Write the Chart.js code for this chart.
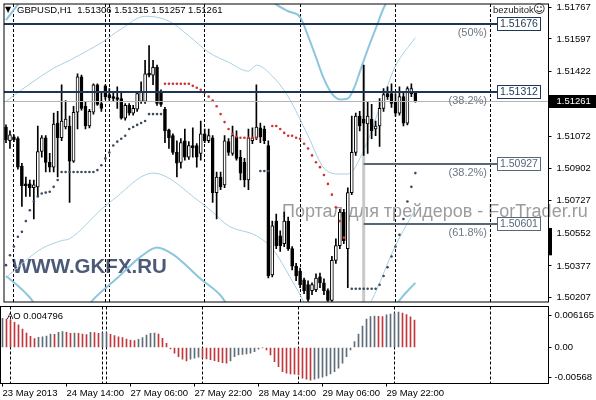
<!DOCTYPE html>
<html><head><meta charset="utf-8">
<script src="https://cdn.jsdelivr.net/npm/chart.js@4.4.1/dist/chart.umd.min.js"></script>
<style>
html,body{margin:0;padding:0;background:#fff;}
#wrap{position:relative;width:596px;height:400px;overflow:hidden;background:#fff;}
#c1{position:absolute;left:0;top:0;}
#c2{position:absolute;left:0;top:306px;}
</style></head><body>
<div id="wrap"><canvas id="c1" width="596" height="306"></canvas><canvas id="c2" width="596" height="94"></canvas></div>
<script>
// ---------- DATA ----------
const symbol = 'GBPUSD,H1';
const slotCount = 137; // bars shown incl. empty right margin
const xTickIndex = [0,16,32,48,64,80,96];
const xTickLabels = ['23 May 2013','24 May 14:00','27 May 06:00','27 May 22:00','28 May 14:00','29 May 06:00','29 May 22:00'];
const sepIndex = [2,25,26,50,74,98,122];
const priceTicks = [1.51767,1.51597,1.51422,1.51072,1.50902,1.50727,1.50552,1.50377,1.50207];
const priceMin = 1.50183, priceMax = 1.51785;

const open = [
1.51124,1.51050,1.51071,1.51061,1.50913,1.50818,1.50818,1.50797,1.50802,1.50992,
1.51066,1.50934,1.50908,1.51145,1.51066,1.51124,1.51129,1.50940,1.51203,1.51393,
1.51235,1.51129,1.51203,1.51351,1.51250,1.51345,1.51298,1.51287,1.51282,1.51277,
1.51171,1.51240,1.51198,1.51219,1.51261,1.51261,1.51414,1.51403,1.51445,1.51308,
1.51219,1.51108,1.51077,1.50987,1.50934,1.51050,1.50961,1.51024,1.51024,1.50982,
1.51087,1.51050,1.51066,1.50771,1.50855,1.50813,1.51045,1.50982,1.51071,1.50961,
1.50934,1.50839,1.51050,1.51066,1.51119,1.51113,1.51024,1.50328,1.50618,1.50539,
1.50497,1.50618,1.50470,1.50376,1.50349,1.50302,1.50276,1.50244,1.50249,1.50318,
1.50286,1.50244,1.50191,1.50407,1.50486,1.50666,1.50470,1.50771,1.50987,1.51182,
1.51166,1.51140,1.51166,1.51113,1.51129,1.51224,1.51303,1.51303,1.51261,1.51198,
1.51287,1.51145,1.51303,1.51306];
const close = [
1.51055,1.51082,1.51055,1.50908,1.50808,1.50808,1.50797,1.50813,1.50992,1.51066,
1.50934,1.50908,1.51140,1.51066,1.51156,1.51166,1.50940,1.51203,1.51393,1.51224,
1.51129,1.51208,1.51351,1.51245,1.51224,1.51287,1.51282,1.51277,1.51272,1.51171,
1.51240,1.51198,1.51224,1.51303,1.51314,1.51409,1.51403,1.51445,1.51250,1.51245,
1.51103,1.51066,1.50987,1.50929,1.51040,1.50961,1.51024,1.51013,1.50961,1.51087,
1.51050,1.51077,1.50771,1.50855,1.50802,1.51050,1.50987,1.51077,1.50955,1.50876,
1.50839,1.51066,1.51066,1.51124,1.51071,1.51050,1.50323,1.50592,1.50486,1.50486,
1.50618,1.50470,1.50376,1.50323,1.50276,1.50244,1.50197,1.50276,1.50312,1.50286,
1.50244,1.50191,1.50407,1.50486,1.50666,1.50513,1.50771,1.50987,1.51182,1.51129,
1.51145,1.51182,1.51103,1.51129,1.51224,1.51298,1.51287,1.51250,1.51198,1.51287,
1.51145,1.51330,1.51330,1.51261];
const high = [
1.51135,1.51103,1.51082,1.51071,1.50929,1.50855,1.50839,1.50839,1.51129,1.51077,
1.51077,1.50982,1.51198,1.51208,1.51351,1.51266,1.51182,1.51235,1.51409,1.51403,
1.51261,1.51219,1.51356,1.51356,1.51314,1.51351,1.51330,1.51314,1.51340,1.51314,
1.51250,1.51250,1.51240,1.51314,1.51366,1.51482,1.51561,1.51482,1.51456,1.51324,
1.51229,1.51113,1.51087,1.51050,1.51061,1.51113,1.51045,1.51119,1.51034,1.51156,
1.51113,1.51113,1.51077,1.50882,1.50882,1.51077,1.51061,1.51129,1.51103,1.50998,
1.50955,1.51113,1.51119,1.51351,1.51145,1.51129,1.51050,1.50618,1.50655,1.50565,
1.50666,1.50639,1.50481,1.50391,1.50365,1.50312,1.50297,1.50286,1.50334,1.50339,
1.50307,1.50254,1.50428,1.50523,1.50681,1.50681,1.50797,1.51182,1.51198,1.51208,
1.51456,1.51261,1.51245,1.51156,1.51277,1.51330,1.51340,1.51356,1.51303,1.51340,
1.51314,1.51340,1.51356,1.51315];
const low = [
1.51040,1.51008,1.51045,1.50897,1.50697,1.50750,1.50750,1.50629,1.50750,1.50961,
1.50882,1.50882,1.50882,1.50855,1.51050,1.51113,1.50718,1.50934,1.51113,1.51214,
1.51113,1.51119,1.51193,1.51240,1.51208,1.51272,1.51266,1.51261,1.51224,1.51166,
1.51161,1.51187,1.51187,1.51208,1.51250,1.51250,1.51393,1.51351,1.51240,1.51235,
1.51040,1.51008,1.50976,1.50855,1.50903,1.50945,1.50950,1.50961,1.50908,1.50945,
1.51040,1.51040,1.50718,1.50629,1.50787,1.50797,1.50971,1.50971,1.50945,1.50839,
1.50802,1.50787,1.51034,1.51055,1.51040,1.51034,1.50312,1.50318,1.50470,1.50455,
1.50481,1.50460,1.50355,1.50297,1.50260,1.50228,1.50186,1.50223,1.50239,1.50260,
1.50223,1.50186,1.50186,1.50391,1.50470,1.50497,1.50260,1.50760,1.50971,1.51103,
1.50971,1.50982,1.51061,1.51077,1.51019,1.51208,1.51272,1.51229,1.51182,1.51187,
1.51129,1.51135,1.51287,1.51257];

const sarBelow = [
1.50381,1.50434,1.50481,1.50534,1.50560,1.50618,1.50676,1.50723,1.50750,1.50766,
1.50771,1.50776,1.50802,1.50839,1.50882,1.50882,1.50882,1.50882,1.50882,1.50882,
1.50882,1.50882,1.50882,1.50892,1.50918,1.50955,1.50987,1.51024,1.51045,1.51061,
1.51077,1.51113,1.51124,1.51135,1.51145,1.51156,1.51193,1.51193,1.51193,1.51193,
null,null,null,null,null,null,null,null,null,null,
null,null,null,null,null,null,null,null,null,null,
null,null,null,null,1.50887,1.50887,1.50887,null,null,null,
null,null,null,null,null,null,null,null,null,null,
null,null,null,null,null,null,null,1.50254,1.50254,1.50254,
1.50254,1.50254,1.50254,1.50254,1.50276,1.50323,1.50370,1.50428,1.50481,1.50544,
1.50629,1.50723,1.50802,1.50876];
const sarAbove = [
null,null,null,null,null,null,null,null,null,null,
null,null,null,null,null,null,null,null,null,null,
null,null,null,null,null,null,null,null,null,null,
null,null,null,null,null,null,null,null,null,null,
1.51356,1.51356,1.51356,1.51356,1.51356,1.51356,1.51356,1.51345,1.51335,1.51324,
1.51308,1.51287,1.51266,1.51235,1.51193,1.51150,1.51113,1.51087,1.51071,1.51066,
1.51066,1.51066,1.51066,1.51066,null,null,null,1.51129,1.51129,1.51113,
1.51092,1.51077,1.51077,1.51066,1.51061,1.51034,1.51008,1.50971,1.50934,1.50908,
1.50866,1.50818,1.50760,1.50692,1.50618,1.50529,null,null,null,null,
null,null,null,null,null,null,null,null,null,null,
null,null,null,null];

// envelope / band lines: [bar index, price]
const bandOuterUpper = [[0,1.51698],[3,1.51783],[6,1.51867],[60,1.51920],[66,1.51820],[68,1.51783],[71,1.51746],[74,1.51714],[76,1.51614],[78,1.51498],[80,1.51382],[82,1.51303],[84,1.51272],[86,1.51277],[88,1.51356],[89,1.51419],[91,1.51540],[93,1.51651],[95,1.51762],[97,1.51841],[100,1.51946],[103,1.52078]];
const bandInnerUpper = [[0,1.51261],[5,1.51340],[12,1.51440],[16,1.51482],[21,1.51540],[24,1.51577],[29,1.51651],[35,1.51719],[41,1.51693],[46,1.51614],[51,1.51525],[56,1.51472],[61,1.51424],[63,1.51456],[67,1.51398],[71,1.51287],[76,1.51077],[80,1.50903],[84,1.50871],[86,1.50871],[90,1.50998],[95,1.51287],[98,1.51451],[103,1.51604]];
const bandInnerLower = [[0,1.50312],[5,1.50407],[9,1.50470],[14,1.50513],[16,1.50523],[24,1.50681],[27,1.50734],[37,1.50876],[49,1.50718],[52,1.50666],[56,1.50592],[63,1.50539],[67,1.50470],[72,1.50297],[75,1.50181],[78,1.50049],[88,1.50049],[92,1.50191],[98,1.50486],[103,1.50681]];
const bandOuterLower = [[0,1.50323],[3,1.50270],[6,1.50207],[10,1.50102],[20,1.50144],[22,1.50197],[28,1.50312],[34,1.50428],[38,1.50476],[42,1.50439],[49,1.50307],[54,1.50218],[58,1.50102],[90,1.49996],[98,1.50165],[100,1.50218],[103,1.50286]];

const ao = [
0.00508,0.00495,0.00480,0.00440,0.00395,0.00320,0.00250,0.00195,0.00155,0.00177,
0.00188,0.00200,0.00235,0.00229,0.00264,0.00276,0.00264,0.00247,0.00252,0.00245,
0.00235,0.00223,0.00264,0.00258,0.00247,0.00252,0.00258,0.00229,0.00206,0.00188,
0.00171,0.00148,0.00131,0.00119,0.00142,0.00171,0.00217,0.00247,0.00252,0.00235,
0.00160,0.00073,-0.00025,-0.00100,-0.00158,-0.00204,-0.00233,-0.00204,-0.00187,-0.00169,
-0.00180,-0.00200,-0.00210,-0.00228,-0.00245,-0.00263,-0.00274,-0.00233,-0.00158,-0.00129,
-0.00120,-0.00110,-0.00100,-0.00071,-0.00030,-0.00005,-0.00042,-0.00129,-0.00245,-0.00332,
-0.00419,-0.00448,-0.00459,-0.00465,-0.00477,-0.00534,-0.00552,-0.00568,-0.00552,-0.00534,
-0.00517,-0.00494,-0.00459,-0.00419,-0.00361,-0.00274,-0.00158,-0.00042,0.00102,0.00235,
0.00374,0.00496,0.00537,0.00549,0.00545,0.00540,0.00567,0.00584,0.00600,0.006165,
0.00600,0.00575,0.00535,0.004796];
const aoMin = -0.006271, aoMax = 0.007142;
const aoTickPos = [0.00554, 0, -0.00519];
const aoTickLabels = ['0.006165','0.00','-0.00568'];

// drawn objects
const levelPrice = [1.51676, 1.51312, 1.50927, 1.50601];
const levelText = ['(50%)','(38.2%)','(38.2%)','(61.8%)'];
const levelFrom = [null, null, 90, 90];
const levelColor = ['#1d3657','#1d3657','#56677a','#56677a'];
const fibAnchorIndex = 90, fibAnchorPrice = 1.51456;
const bidPrice = 1.51261;
const axisMark = [1.50581, 1.50434];

// ---------- RENDER ----------
const FONT = "'Liberation Sans', Arial, sans-serif";
Chart.defaults.font.family = FONT;
Chart.defaults.font.size = 9.5;
Chart.defaults.color = '#000';
const cats = Array.from({length: slotCount}, (_, i) => String(i));

const candleWicks = high.map((h, i) => [low[i], h]);
const candleBodies = open.map((o, i) => [o, close[i]]);
const bodyColors = open.map((o, i) => close[i] >= o ? '#ffffff' : '#000000');
const pts = arr => arr.map(([i, v]) => ({x: String(i), y: v}));
const bandDs = (arr, w, c) => ({type:'line', data: pts(arr), borderColor: c, borderWidth: w, pointRadius: 0, cubicInterpolationMode:'monotone', order: 6});
const noPad = s => { s.paddingTop = 0; s.paddingBottom = 0; s.paddingLeft = 0; s.paddingRight = 0; };

function drawDashedSeps(ctx, xs, a){
  ctx.save();
  ctx.strokeStyle = '#000'; ctx.lineWidth = 1; ctx.setLineDash([3,2]);
  sepIndex.forEach(i => {
    const px = Math.round(xs.getPixelForValue(i) - 0.5) + 0.5;
    ctx.beginPath(); ctx.moveTo(px, a.top); ctx.lineTo(px, a.bottom); ctx.stroke();
  });
  ctx.restore();
}
function frame(ctx, a){
  ctx.save(); ctx.strokeStyle = '#000'; ctx.lineWidth = 1;
  ctx.strokeRect(a.left, a.top, a.right - a.left, a.bottom - a.top); ctx.restore();
}

const ov1 = {
  id: 'ov1',
  beforeDatasetsDraw(ch){
    const {ctx, chartArea: a, scales: {x, y}} = ch;
    ctx.save();
    ctx.textBaseline = 'alphabetic'; ctx.textAlign = 'left';
    ctx.fillStyle = '#9c9c9c'; ctx.font = "18px " + FONT;
    ctx.fillText('Портал для трейдеров - ForTrader.ru', 282, 217);
    ctx.fillStyle = '#4c5a78'; ctx.font = "bold 20.5px " + FONT;
    ctx.fillText('WWW.GKFX.RU', 12, 273);
    const fx = x.getPixelForValue(fibAnchorIndex), fy = y.getPixelForValue(fibAnchorPrice);
    ctx.fillStyle = '#c9c9c9';
    ctx.fillRect(fx - 1.5, fy, 3, a.bottom - fy);
    ctx.restore();
    drawDashedSeps(ctx, x, a);
  },
  afterDatasetsDraw(ch){
    const {ctx, chartArea: a, scales: {x, y}} = ch;
    ctx.save();
    const by = Math.round(y.getPixelForValue(bidPrice)) + 0.5;
    ctx.strokeStyle = '#b4b4b4'; ctx.lineWidth = 1;
    ctx.beginPath(); ctx.moveTo(a.left, by); ctx.lineTo(a.right, by); ctx.stroke();
    const boxL = 497, boxW = 43, boxH = 13;
    levelPrice.forEach((p, k) => {
      const ly = Math.round(y.getPixelForValue(p));
      const x0 = levelFrom[k] === null ? a.left : x.getPixelForValue(levelFrom[k]);
      ctx.fillStyle = levelColor[k];
      ctx.fillRect(x0, ly - 1, boxL - x0, 2);
      ctx.fillStyle = '#fff';
      ctx.fillRect(boxL + 0.5, ly - 6.5, boxW, boxH);
      ctx.strokeStyle = levelColor[k]; ctx.lineWidth = 1;
      ctx.strokeRect(boxL + 0.5, ly - 6.5, boxW, boxH);
      ctx.fillStyle = levelColor[k]; ctx.font = "10.5px " + FONT;
      ctx.textBaseline = 'middle'; ctx.textAlign = 'left';
      ctx.fillText(p.toFixed(5), boxL + 3, ly + 0.5);
      ctx.fillStyle = '#6c7884'; ctx.font = "11px " + FONT;
      ctx.textBaseline = 'top'; ctx.textAlign = 'right';
      ctx.fillText(levelText[k], 487, ly + 3);
    });
    ctx.restore();
  },
  afterDraw(ch){
    const {ctx, chartArea: a, scales: {y}} = ch;
    frame(ctx, a);
    ctx.save();
    ctx.fillStyle = '#000'; ctx.font = "8px 'DejaVu Sans'"; ctx.textBaseline = 'middle'; ctx.textAlign = 'left';
    ctx.fillText('▼', 5, 10);
    ctx.font = "9.5px " + FONT;
    const n = open.length - 1;
    ctx.fillText(symbol + '  ' + [open[n], high[n], low[n], close[n]].map(v => v.toFixed(5)).join(' '), 17, 10);
    ctx.fillStyle = '#222';
    ctx.fillText('bezubitok', 493, 10);
    ctx.font = "12px 'DejaVu Sans'";
    ctx.fillText('☺', 533, 10);
    const cy = y.getPixelForValue(close[n]);
    ctx.fillStyle = '#000';
    ctx.fillRect(a.right + 0.5, Math.round(cy) - 6, 596 - a.right, 13);
    ctx.fillStyle = '#fff'; ctx.font = "9.5px " + FONT;
    ctx.fillText(close[n].toFixed(5), 556.5, Math.round(cy) + 0.5);
    const m0 = y.getPixelForValue(axisMark[0]), m1 = y.getPixelForValue(axisMark[1]);
    ctx.fillStyle = '#000';
    ctx.fillRect(a.right + 0.5, m0, 3, m1 - m0);
    ctx.restore();
  }
};

new Chart(document.getElementById('c1'), {
  type: 'bar',
  data: {
    labels: cats,
    datasets: [
      {type:'line', data: sarAbove, showLine:false, pointRadius:1.3, pointBorderWidth:0, pointBackgroundColor:'#cf3434', order:1},
      {type:'line', data: sarBelow, showLine:false, pointRadius:1.3, pointBorderWidth:0, pointBackgroundColor:'#3b4a63', order:1},
      {type:'bar', data: candleBodies, barThickness:3, backgroundColor: bodyColors, borderColor:'#000', borderWidth:1, borderSkipped:false, grouped:false, order:3},
      {type:'bar', data: candleWicks, barThickness:1, backgroundColor:'#000', borderWidth:0, grouped:false, order:4},
      bandDs(bandOuterUpper, 2, '#8cc6df'),
      bandDs(bandOuterLower, 2, '#8cc6df'),
      bandDs(bandInnerUpper, 1, '#a9d0e2'),
      bandDs(bandInnerLower, 1, '#a9d0e2')
    ]
  },
  options: {
    responsive: false, animation: false, devicePixelRatio: 1,
    layout: {padding: {left: 0.5, top: 0.5, right: 0, bottom: 1.5}},
    plugins: {legend: {display: false}, tooltip: {enabled: false}},
    scales: {
      x: {type: 'category', display: false, offset: true, afterFit: noPad},
      y: {
        position: 'right', min: priceMin, max: priceMax,
        afterFit(s){ s.width = 47.5; noPad(s); },
        afterBuildTicks(s){ s.ticks = priceTicks.map(v => ({value: v})); },
        ticks: {padding: 5, color: '#000', font: {size: 9.5}, callback: v => Number(v).toFixed(5)},
        grid: {drawOnChartArea: false, drawTicks: true, tickLength: 3, color: '#000'},
        border: {display: false}
      }
    }
  },
  plugins: [ov1]
});

const aoColors = ao.map((v, i) => (i === 0 || v > ao[i - 1]) ? '#5f6c7a' : '#c2383a');
const ov2 = {
  id: 'ov2',
  beforeDatasetsDraw(ch){ drawDashedSeps(ch.ctx, ch.scales.x, ch.chartArea); },
  afterDraw(ch){
    const {ctx, chartArea: a} = ch;
    frame(ctx, a);
    ctx.save();
    ctx.fillStyle = '#000'; ctx.font = "9.5px " + FONT; ctx.textBaseline = 'middle'; ctx.textAlign = 'left';
    ctx.fillText('AO ' + ao[ao.length - 1].toFixed(6), 7, 10);
    ctx.restore();
  }
};
const tickMap = {};
xTickIndex.forEach((idx, k) => tickMap[idx] = xTickLabels[k]);

new Chart(document.getElementById('c2'), {
  type: 'bar',
  data: {labels: cats, datasets: [{data: ao, backgroundColor: aoColors, barThickness: 1, borderWidth: 0}]},
  options: {
    responsive: false, animation: false, devicePixelRatio: 1,
    layout: {padding: {left: 0.5, top: 0.5, right: 0, bottom: 0}},
    plugins: {legend: {display: false}, tooltip: {enabled: false}},
    scales: {
      x: {
        offset: true,
        afterFit(s){ s.height = 16.5; noPad(s); },
        grid: {display: true, drawOnChartArea: false, offset: false, tickLength: 3, color: '#000'},
        border: {display: false},
        ticks: {autoSkip: false, maxRotation: 0, minRotation: 0, align: 'start', padding: 1, color: '#000', font: {size: 9.5},
          callback: (v, i) => (tickMap[i] !== undefined ? tickMap[i] : null)}
      },
      y: {
        position: 'right', min: aoMin, max: aoMax,
        afterFit(s){ s.width = 47.5; noPad(s); },
        afterBuildTicks(s){ s.ticks = aoTickPos.map(v => ({value: v})); },
        ticks: {padding: 3, color: '#000', font: {size: 9.5}, callback: (v, i) => aoTickLabels[i]},
        grid: {drawOnChartArea: false, drawTicks: true, tickLength: 3, color: '#000'},
        border: {display: false}
      }
    }
  },
  plugins: [ov2]
});
</script>
</body></html>
